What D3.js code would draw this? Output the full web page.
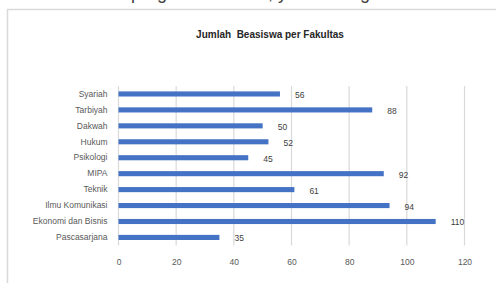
<!DOCTYPE html>
<html>
<head>
<meta charset="utf-8">
<script src="https://cdn.jsdelivr.net/npm/d3@7"></script>
<style>
  html, body { margin: 0; padding: 0; background: #fff; }
  svg { display: block; }
</style>
</head>
<body>
<div id="chart"></div>
<script>
// data, top to bottom
const fakultas = ["Syariah", "Tarbiyah", "Dakwah", "Hukum", "Psikologi", "MIPA",
  "Teknik", "Ilmu Komunikasi", "Ekonomi dan Bisnis", "Pascasarjana"];
const jumlah = [56, 88, 50, 52, 45, 92, 61, 94, 110, 35];
const xTicks = [0, 20, 40, 60, 80, 100, 120];
const chartTitle = "Jumlah  Beasiswa per Fakultas";

const W = 496, H = 283;
const rows = fakultas.map((f, i) => ({ name: f, value: jumlah[i] }));

const svg = d3.select("#chart").append("svg")
  .attr("width", W)
  .attr("height", H)
  .style("font-family", "'Liberation Sans', Arial, sans-serif");

// cut-off line of body text above the chart (only its lower edge shows)
const bodyLine = svg.append("text")
  .attr("y", -1)
  .attr("font-size", 18)
  .attr("fill", "#404040");
bodyLine.append("tspan").attr("x", 128).attr("text-anchor", "end").text("dimasukkan ke dalam ");
bodyLine.append("tspan").attr("x", 131).attr("text-anchor", "start").text("program tersebut, yaitu sebagai berikut:");

// chart frame
svg.append("rect")
  .attr("x", 7.5).attr("y", 9.5)
  .attr("width", 520).attr("height", 300)
  .attr("fill", "#fff")
  .attr("stroke", "#d9d9d9")
  .attr("stroke-width", 1.5);

svg.append("text")
  .attr("x", 270)
  .attr("y", 38)
  .attr("text-anchor", "middle")
  .attr("font-size", 10)
  .attr("font-weight", "bold")
  .attr("fill", "#262626")
  .style("white-space", "pre")
  .text(chartTitle);

const margin = { left: 118.5, top: 86, right: 31.5, bottom: 37.6 };
const plotW = W - margin.left - margin.right;
const plotH = H - margin.top - margin.bottom;

const g = svg.append("g")
  .attr("transform", "translate(" + margin.left + "," + margin.top + ")");

const x = d3.scaleLinear()
  .domain([0, 120])
  .range([0, plotW]);

const y = d3.scaleBand()
  .domain(fakultas)
  .range([0, plotH])
  .paddingInner(0.68)
  .paddingOuter(0.34);

// vertical gridlines
g.selectAll("line.grid")
  .data(xTicks)
  .enter()
  .append("line")
  .attr("class", "grid")
  .attr("x1", d => x(d))
  .attr("x2", d => x(d))
  .attr("y1", 0)
  .attr("y2", plotH)
  .attr("stroke", "#d9d9d9")
  .attr("stroke-width", 1.2);

// x axis labels
const xAxis = g.append("g")
  .attr("transform", "translate(0," + plotH + ")")
  .call(d3.axisBottom(x).tickValues(xTicks).tickSize(0).tickPadding(14));
xAxis.select(".domain").remove();
xAxis.selectAll("text")
  .attr("font-size", 8.5)
  .attr("font-family", "'Liberation Sans', Arial, sans-serif")
  .attr("fill", "#595959");

// category labels
const yAxis = g.append("g")
  .call(d3.axisLeft(y).tickSize(0).tickPadding(11));
yAxis.select(".domain").remove();
yAxis.selectAll("text")
  .attr("font-size", 8.5)
  .attr("font-family", "'Liberation Sans', Arial, sans-serif")
  .attr("fill", "#595959");

// bars
g.selectAll("rect.bar")
  .data(rows)
  .enter()
  .append("rect")
  .attr("class", "bar")
  .attr("x", 0)
  .attr("y", d => y(d.name))
  .attr("width", d => x(d.value))
  .attr("height", y.bandwidth())
  .attr("fill", "#4472c4");

// value labels
g.selectAll("text.val")
  .data(rows)
  .enter()
  .append("text")
  .attr("class", "val")
  .attr("x", d => x(d.value) + 15)
  .attr("y", d => y(d.name) + y.bandwidth() / 2 + 1)
  .attr("dy", "0.35em")
  .attr("font-size", 8.5)
  .attr("fill", "#404040")
  .text(d => d.value);
</script>
</body>
</html>
